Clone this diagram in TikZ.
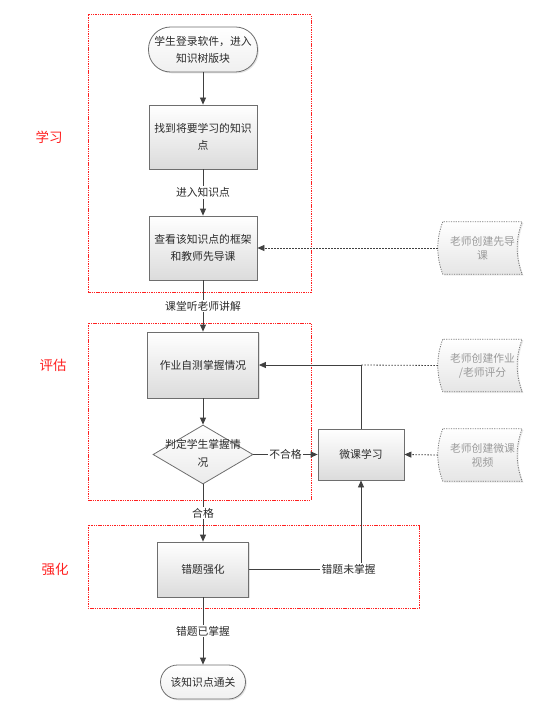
\documentclass[tikz,border=0pt]{standalone}
\usepackage{fontspec}
\newfontfamily\cjk{Noto Sans CJK SC}
\usetikzlibrary{arrows.meta,shapes.geometric,shadows,backgrounds}
\definecolor{linec}{HTML}{404040}
\definecolor{boxb}{HTML}{6E6E6E}
\definecolor{docb}{HTML}{7A7A7A}
\definecolor{doct}{HTML}{9A9A9A}
\definecolor{txt}{HTML}{2A2A2A}
\definecolor{redf}{HTML}{FF2020}
\newcommand\docpath[1]{(#1.north west) .. controls ([xshift=-6.7pt,yshift=-17pt]#1.north west) and ([xshift=-6.7pt,yshift=17pt]#1.south west) .. (#1.south west) -- (#1.south east) .. controls ([xshift=-6.7pt,yshift=17pt]#1.south east) and ([xshift=-6.7pt,yshift=-17pt]#1.north east) .. (#1.north east) -- cycle}
\begin{document}
\begin{tikzpicture}[x=1pt,y=-1pt,
  base/.style={font=\cjk\fontsize{10.8}{17}\selectfont, text=txt, align=center, inner sep=0pt},
  proc/.style={base, draw=boxb, line width=0.8pt, top color=white, bottom color=black!14,
    drop shadow={opacity=0.22, shadow xshift=1.3pt, shadow yshift=-1.3pt}},
  term/.style={proc, top color=white, bottom color=black!6},
  doc/.style={base, text=doct, font=\cjk\fontsize{10.8}{14}\selectfont, minimum width=79pt, minimum height=52pt},
  docshape/.style={draw=docb, line width=0.8pt, dash pattern=on 1.2pt off 1.2pt, top color=white, bottom color=black!10},
  lbl/.style={base, fill=white, inner sep=1.5pt},
  sec/.style={base, text=redf, font=\cjk\fontsize{13.5}{16}\selectfont},
  frame/.style={draw=redf, line width=1pt, dash pattern=on 1.4pt off 0.9pt},
  arr/.style={draw=linec, line width=0.8pt, -{Triangle[length=7pt,width=6pt]}},
  darr/.style={draw=linec, line width=0.8pt, dash pattern=on 1.5pt off 1.5pt, -{Triangle[length=7pt,width=6pt]}},
  dline/.style={draw=linec, line width=0.8pt, dash pattern=on 1.5pt off 1.5pt}
]
\useasboundingbox (0,0) rectangle (553,714);
% frames
\draw[frame] (88,15) rectangle (311,292);
\draw[frame] (88,323) rectangle (311,500);
\draw[frame] (88,525) rectangle (419,608);
% section labels
\node[sec] (s1) at (49,137) {学习};
\node[sec] (s2) at (53,365) {评估};
\node[sec] (s3) at (55,569) {强化};
% main nodes
\node[term, rounded corners=22pt, minimum width=109pt, minimum height=45pt] (start) at (203,49.5) {学生登录软件，进入\\知识树版块};
\node[proc, minimum width=108pt, minimum height=64pt] (find) at (203,137) {找到将要学习的知识\\点};
\node[proc, minimum width=108pt, minimum height=64pt] (view) at (203,248) {查看该知识点的框架\\和教师先导课};
\node[proc, minimum width=111pt, minimum height=66pt] (hw) at (203,365) {作业自测掌握情况};
\node[base, shape=diamond, draw=boxb, line width=0.8pt, top color=white, bottom color=black!8,
  minimum width=100pt, minimum height=59pt] (judge) at (203,454.5)
  {\smash{\makebox[0pt]{\raisebox{-2pt}{\begin{tabular}{@{}c@{}}判定学生掌握情\\[1pt]况\end{tabular}}}}};
\node[proc, minimum width=86pt, minimum height=51pt] (wk) at (361,454.5) {微课学习};
\node[proc, minimum width=91pt, minimum height=55pt] (err) at (203,569.5) {错题强化};
\node[term, rounded corners=17pt, minimum width=85pt, minimum height=34pt] (endn) at (203,682) {该知识点通关};
% documents
\node[doc] (d1) at (482.5,248) {老师创建先导\\课};
\node[doc] (d2) at (482.5,365.5) {老师创建作业\\/老师评分};
\node[doc] (d3) at (482.5,455) {老师创建微课\\视频};
\begin{pgfonlayer}{background}
\path[docshape, drop shadow={opacity=0.15, shadow xshift=1.3pt, shadow yshift=-1.3pt}] \docpath{d1};
\path[docshape, drop shadow={opacity=0.15, shadow xshift=1.3pt, shadow yshift=-1.3pt}] \docpath{d2};
\path[docshape, drop shadow={opacity=0.15, shadow xshift=1.3pt, shadow yshift=-1.3pt}] \docpath{d3};
\end{pgfonlayer}
% connectors
\draw[arr] (start) -- (find);
\draw[arr] (find) -- node[lbl]{进入知识点} (view);
\draw[arr] (view) -- node[lbl]{课堂听老师讲解} (hw);
\draw[arr] (hw) -- (judge);
\draw[arr] (judge) -- node[lbl]{不合格} (wk);
\draw[arr] (judge) -- node[lbl]{合格} (err);
\draw[arr] (err) -- node[lbl]{错题已掌握} (endn);
\coordinate (k) at (err.east -| wk.south);
\draw[arr] (err.east) -- (k) node[lbl, pos=0.89]{错题未掌握} -- (wk.south);
\coordinate (j) at (wk.north |- hw.east);
\draw[arr] (wk.north) -- (j) -- (hw.east);
\draw[darr] ([xshift=-5pt]d1.west) -- (view.east);
\draw[dline] ([xshift=-5pt]d2.west) -- (j);
\draw[darr] ([xshift=-5pt]d3.west) -- (wk.east);
\end{tikzpicture}
\end{document}
